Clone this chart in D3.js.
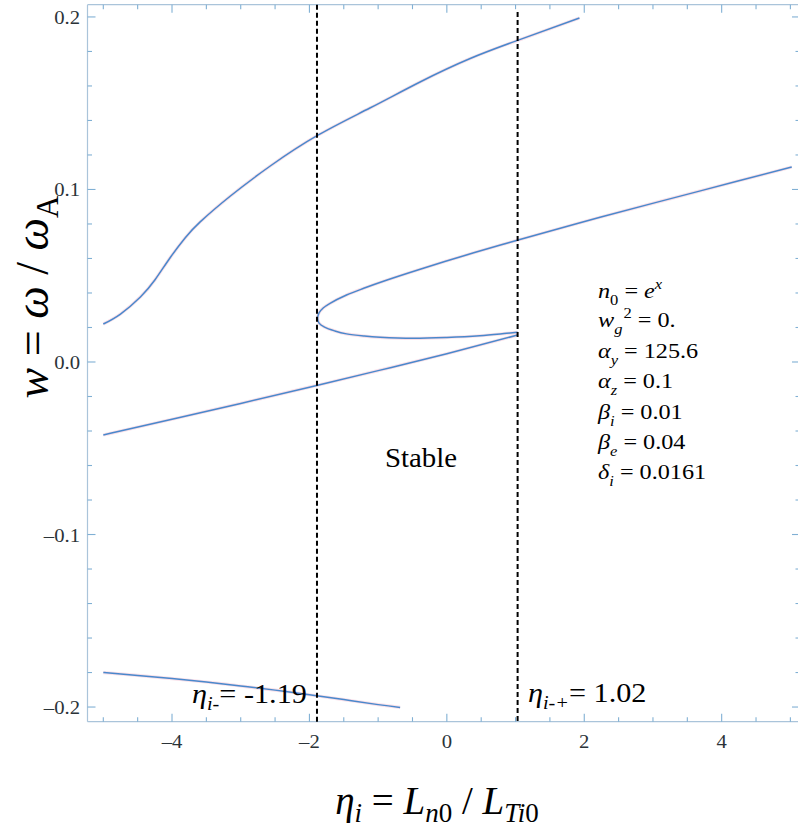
<!DOCTYPE html>
<html><head><meta charset="utf-8">
<script src="https://cdn.jsdelivr.net/npm/d3@7"></script>
<style>body{margin:0;background:#fff}</style>
</head><body>
<script>
// ---- data ----
const xMajorTicks = [-4, -2, 0, 2, 4];
const xTickLabels = ["–4", "–2", "0", "2", "4"];
const yMajorTicks = [-0.2, -0.1, 0.0, 0.1, 0.2];
const yTickLabels = ["–0.2", "–0.1", "0.0", "0.1", "0.2"];

// upper root (S-shaped)
const upperX = [-5.0, -4.75, -4.46, -4.25, -4.03, -3.81, -3.59, -3.15, -2.57, -1.87, -1.12, -0.39, 0.34, 1.05, 1.93];
const upperY = [0.0220, 0.0278, 0.0377, 0.0475, 0.0603, 0.0719, 0.0812, 0.0962, 0.1136, 0.1316, 0.1472, 0.1623, 0.1759, 0.1867, 0.1994];

// fold: lower branch (right to left) then upper branch (left to right)
const noseX = [1.03, 0.87, 0.48, 0.0, -0.49, -0.97, -1.2, -1.46, -1.63, -1.78, -1.86, -1.88, -1.86, -1.80, -1.70, -1.46, -1.21, -0.87, -0.4, 0.2, 0.78, 1.05, 2.23, 3.69, 5.02];
const noseY = [0.0172, 0.0166, 0.0152, 0.0142, 0.0137, 0.0143, 0.0150, 0.0163, 0.0180, 0.0202, 0.0225, 0.0253, 0.0285, 0.0313, 0.0340, 0.0388, 0.0427, 0.0475, 0.0536, 0.0610, 0.0678, 0.0709, 0.0839, 0.0992, 0.1130];

// near-straight line joining the fold at the right
const lineX = [-5.0, -4.0, -3.0, -2.0, -1.0, 0.0, 1.03];
const lineY = [-0.0423, -0.0332, -0.0240, -0.0146, -0.0050, 0.0048, 0.0156];

// bottom root
const bottomX = [-5.0, -4.5, -4.0, -3.5, -3.0, -2.5, -2.0, -1.5, -1.0, -0.68];
const bottomY = [-0.1800, -0.1817, -0.1835, -0.1855, -0.1878, -0.1902, -0.1929, -0.1957, -0.1986, -0.2002];

const etaMinus = -1.89;
const etaPlus = 1.03;

// ---- setup ----
const W = 798, H = 829;
const F = '"Liberation Serif"';
const svg = d3.select("body").append("svg").attr("width", W).attr("height", H);

const x = d3.scaleLinear().domain([-5.23, 5.14]).range([87.5, 800]);
const y = d3.scaleLinear().domain([-0.2085, 0.2071]).range([721.7, 4.7]);

const frameColor = "#aac4da";
const tickColor = "#80b0d4";

// frame
const [x0, x1] = x.range();
const [yb, yt] = y.range();
svg.append("path").attr("d", `M${x0},${yb}H${x1}M${x0},${yb}V${yt}M${x0},${yt}H${x1}M${x1},${yt}V${yb}`)
  .attr("stroke", frameColor).attr("stroke-width", 1.2).attr("fill", "none");

// ticks
const xMinor = d3.range(-10, 11).map(d => d * 0.5);
const yMinor = d3.range(-10, 11).map(d => +(d * 0.02).toFixed(2));
const isMajorX = v => Math.abs(v / 2 - Math.round(v / 2)) < 1e-6 && Math.abs(v) <= 4;
const isMajorY = v => Math.abs(v * 10 - Math.round(v * 10)) < 1e-6;
const tg = svg.append("g").attr("stroke", tickColor).attr("stroke-width", 1.1);
xMinor.forEach(v => {
  const L = isMajorX(v) ? 8 : 4.5;
  const px = x(v);
  tg.append("line").attr("x1", px).attr("x2", px).attr("y1", yb).attr("y2", yb - L);
  tg.append("line").attr("x1", px).attr("x2", px).attr("y1", yt).attr("y2", yt + L);
});
yMinor.forEach(v => {
  const L = isMajorY(v) ? 8 : 4.5;
  const py = y(v);
  tg.append("line").attr("x1", x0).attr("x2", x0 + L).attr("y1", py).attr("y2", py);
  tg.append("line").attr("x1", x1).attr("x2", x1 - L).attr("y1", py).attr("y2", py);
});

// curves
const line = d3.line().x(d => x(d[0])).y(d => y(d[1]));
const zip = (a, b) => a.map((v, i) => [v, b[i]]);
const curves = [
  { pts: zip(upperX, upperY), c: d3.curveNatural },
  { pts: zip(noseX, noseY), c: d3.curveCatmullRom.alpha(0.5) },
  { pts: zip(lineX, lineY), c: d3.curveNatural },
  { pts: zip(bottomX, bottomY), c: d3.curveNatural }
];
curves.forEach(cv => {
  svg.append("path").attr("d", line.curve(cv.c)(cv.pts)).attr("fill", "none")
    .attr("stroke", "#f2c4d6").attr("stroke-width", 3.2).attr("stroke-opacity", 0.55);
});
curves.forEach(cv => {
  svg.append("path").attr("d", line.curve(cv.c)(cv.pts)).attr("fill", "none")
    .attr("stroke", "#4a88cc").attr("stroke-width", 1.5);
});

// dashed lines
[[etaMinus, yt], [etaPlus, 12]].forEach(([v, top]) => {
  svg.append("line").attr("x1", x(v)).attr("x2", x(v)).attr("y1", top).attr("y2", yb)
    .attr("stroke", "#000").attr("stroke-width", 2).attr("stroke-dasharray", "5,3");
});

// rich text helper
function rich(px, py, parts, o) {
  const size = o.size, sx = o.sx || 1;
  const g = svg.append("g").attr("transform", `translate(${px},${py})` + (o.rotate ? ` rotate(${o.rotate})` : "") + (sx !== 1 ? ` scale(${sx},1)` : ""));
  const t = g.append("text").style("font-family", F).style("font-size", size + "px")
    .attr("fill", o.fill || "#000").attr("text-anchor", o.anchor || "start");
  let cur = 0;
  parts.forEach(p => {
    const fs = (p.sub || p.sup) ? Math.round(size * 0.68) : size;
    const off = Math.round(p.sub ? size * (p.subOff || 0.3) : p.sup ? -size * (p.supOff || 0.42) : 0);
    const ts = t.append("tspan").style("font-size", fs + "px").text(p.t);
    if (off - cur !== 0) ts.attr("dy", off - cur);
    if (p.dx) ts.attr("dx", p.dx);
    if (p.it) ts.style("font-style", "italic");
    cur = off;
  });
  return t;
}

// tick labels
xMajorTicks.forEach((v, i) => {
  rich(x(v), 748, [{ t: xTickLabels[i] }], { size: 18, sx: 1.15, anchor: "middle", fill: "#2b3338" });
});
yMajorTicks.forEach((v, i) => {
  rich(80, y(v) + 7, [{ t: yTickLabels[i] }], { size: 18, sx: 1.15, anchor: "end", fill: "#2b3338" });
});

// annotations
rich(192, 703, [{ t: "η", it: true }, { t: "i-", it: true, sub: true, subOff: 0.25 }, { t: "= -1.19" }], { size: 27, sx: 1.12 });
rich(528, 702, [{ t: "η", it: true }, { t: "i-+", it: true, sub: true, subOff: 0.25 }, { t: "= 1.02" }], { size: 27, sx: 1.12 });
rich(385, 467, [{ t: "Stable" }], { size: 28, sx: 1.03 });

// parameter block
const LX = 598, LS = 22, LSX = 1.1;
rich(LX, 298, [{ t: "n", it: true }, { t: "0", sub: true }, { t: " = " }, { t: "e", it: true }, { t: "x", it: true, sup: true }], { size: LS, sx: LSX });
rich(LX, 327, [{ t: "w", it: true }, { t: "g", it: true, sub: true }, { t: "2", sup: true, dx: 1 }, { t: " = 0." }], { size: LS, sx: LSX });
rich(LX, 358, [{ t: "α", it: true }, { t: "y", it: true, sub: true }, { t: " = 125.6" }], { size: LS, sx: LSX });
rich(LX, 388, [{ t: "α", it: true }, { t: "z", it: true, sub: true }, { t: " = 0.1" }], { size: LS, sx: LSX });
rich(LX, 419, [{ t: "β", it: true }, { t: "i", it: true, sub: true }, { t: " = 0.01" }], { size: LS, sx: LSX });
rich(LX, 449, [{ t: "β", it: true }, { t: "e", it: true, sub: true }, { t: " = 0.04" }], { size: LS, sx: LSX });
rich(LX, 479, [{ t: "δ", it: true }, { t: "i", it: true, sub: true }, { t: " = 0.0161" }], { size: LS, sx: LSX });

// axis titles
rich(437, 814, [
  { t: "η", it: true }, { t: "i", it: true, sub: true, subOff: 0.2 }, { t: " = " },
  { t: "L", it: true }, { t: "n", it: true, sub: true, subOff: 0.2 }, { t: "0", sub: true, subOff: 0.2 }, { t: " / " },
  { t: "L", it: true }, { t: "Ti", it: true, sub: true, subOff: 0.2 }, { t: "0", sub: true, subOff: 0.2 }
], { size: 39, anchor: "middle" });
rich(48, 297, [
  { t: "w", it: true }, { t: " = " }, { t: "ω", it: true }, { t: " / " }, { t: "ω", it: true }, { t: "A", sub: true, subOff: 0.22 }
], { size: 46, anchor: "middle", rotate: -90 });
</script>
</body></html>
